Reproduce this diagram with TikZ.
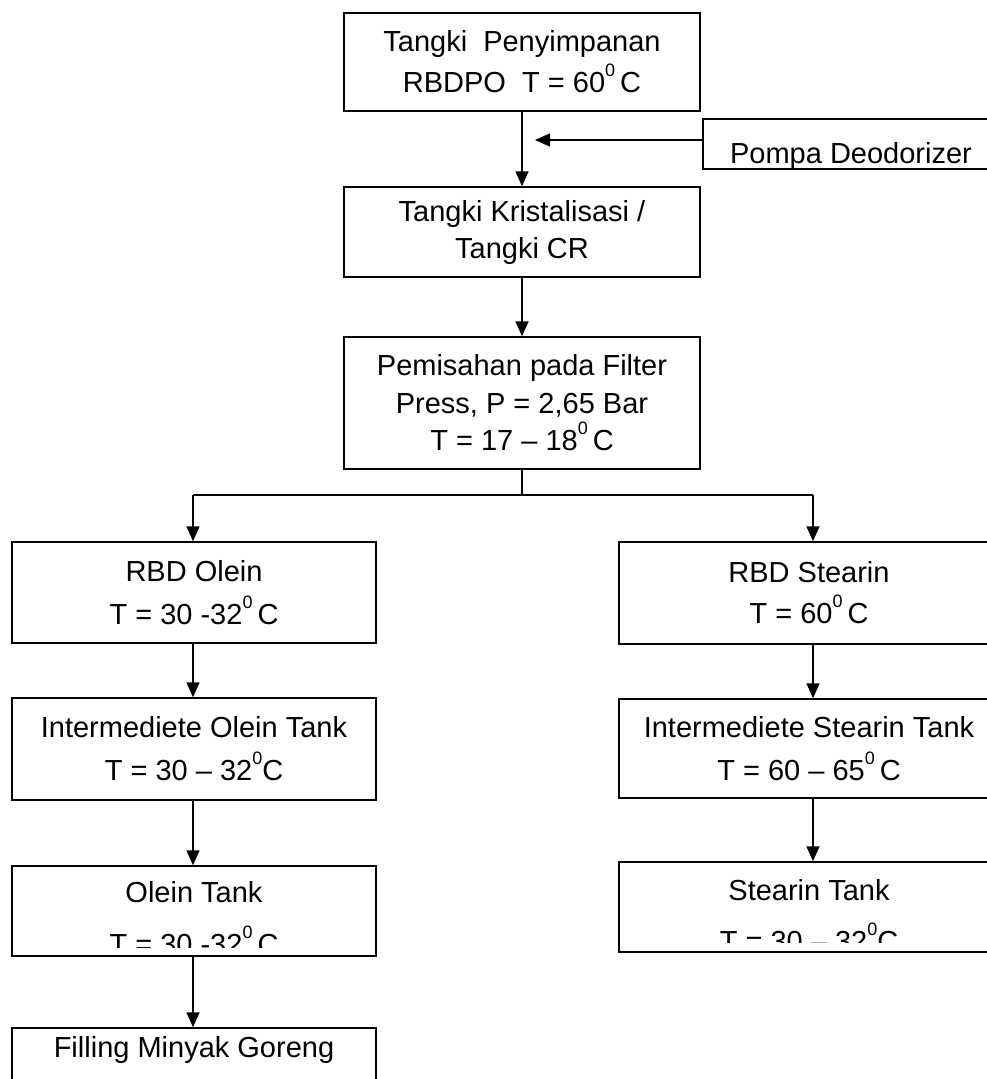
\documentclass[tikz,border=0pt]{standalone}
\usepackage{fontspec}
\setmainfont{Liberation Sans}
\usetikzlibrary{arrows.meta}
\newcommand{\supzero}{\raisebox{16pt}{\fontsize{18}{18}\selectfont 0}}
\newcommand{\boxfont}{\fontsize{29}{41}\selectfont}
\begin{document}
\begin{tikzpicture}[x=1pt,y=-1pt,
  box/.style={draw, line width=1.5pt, rectangle, inner sep=0pt, align=center, font=\boxfont},
  lbl/.style={inner sep=0pt, anchor=base, font=\boxfont},
  arr/.style={line width=1.6pt, -{Triangle[length=15pt,width=13pt]}},
  ln/.style={line width=1.6pt}]
\clip (0,0) rectangle (987,1079);
\fill[white] (0,0) rectangle (987,1079);

% top column
\node[box, minimum width=356pt, minimum height=98pt] (t1) at (522,62)
  {Tangki\ \ Penyimpanan\\RBDPO\ \ T = 60\supzero\hspace{5pt}C};
\node[box, minimum width=356pt, minimum height=90pt, font={\fontsize{29}{37}\selectfont}] (t2) at (522,232)
  {Tangki Kristalisasi /\\Tangki CR};
\node[box, minimum width=356pt, minimum height=132pt, font={\fontsize{29}{37.5}\selectfont}] (t3) at (522,403)
  {Pemisahan pada Filter\\Press, P = 2,65 Bar\\T = 17 – 18\supzero\hspace{5pt}C};

% pump
\node[box, minimum width=296pt, minimum height=50pt] (pompa) at (851,144) {};
\begin{scope}
  \clip (703,119) rectangle (999,167);
  \node[lbl] (pompat) at (851,163) {Pompa Deodorizer};
\end{scope}
\coordinate (pj) at (535,140);

% left column
\node[box, minimum width=364pt, minimum height=101pt, font={\fontsize{29}{43}\selectfont}] (ro) at (194,592.5)
  {RBD Olein\\T = 30 -32\supzero\hspace{5pt}C};
\node[box, minimum width=364pt, minimum height=102pt, font={\fontsize{29}{43}\selectfont}] (io) at (194,749)
  {Intermediete Olein Tank\\T = 30 – 32\supzero C};
\node[box, minimum width=364pt, minimum height=90pt] (ot) at (194,911) {};
\begin{scope}
  \clip (12,866) rectangle (376,947);
  \node[lbl] (ot1) at (194,902) {Olein Tank};
  \node[lbl] (ot2) at (194,954) {T = 30 -32\supzero\hspace{5pt}C};
\end{scope}
\node[box, minimum width=364pt, minimum height=72pt] (fl) at (194,1064) {};
\node[lbl] (flt) at (194,1057) {Filling Minyak Goreng};

% right column
\node[box, minimum width=380pt, minimum height=102pt] (rs) at (809,593)
  {RBD Stearin\\T = 60\supzero\hspace{5pt}C};
\node[box, minimum width=380pt, minimum height=99pt, font={\fontsize{29}{43}\selectfont}] (is) at (809,748.5)
  {Intermediete Stearin Tank\\T = 60 – 65\supzero\hspace{5pt}C};
\node[box, minimum width=380pt, minimum height=90pt] (st) at (809,907) {};
\begin{scope}
  \clip (619,862) rectangle (999,942);
  \node[lbl] (st1) at (809,900) {Stearin Tank};
  \node[lbl] (st2) at (809,951) {T = 30 – 32\supzero C};
\end{scope}

% split coordinates
\coordinate (sp) at (522,495);
\coordinate (lsp) at (193,495);
\coordinate (rsp) at (813,495);

% connectors
\draw[arr] (t1.south) -- (t2.north);
\draw[arr] (pompa.west |- pj) -- (pj);
\draw[arr] (t2.south) -- (t3.north);
\draw[ln] (t3.south) -- (sp);
\draw[ln] (lsp) -- (rsp);
\draw[arr] (lsp) -- (ro.north -| lsp);
\draw[arr] (rsp) -- (rs.north -| rsp);
\draw[arr] (ro.south -| lsp) -- (io.north -| lsp);
\draw[arr] (io.south -| lsp) -- (ot.north -| lsp);
\draw[arr] (ot.south -| lsp) -- (fl.north -| lsp);
\draw[arr] (rs.south -| rsp) -- (is.north -| rsp);
\draw[arr] (is.south -| rsp) -- (st.north -| rsp);
\end{tikzpicture}
\end{document}
